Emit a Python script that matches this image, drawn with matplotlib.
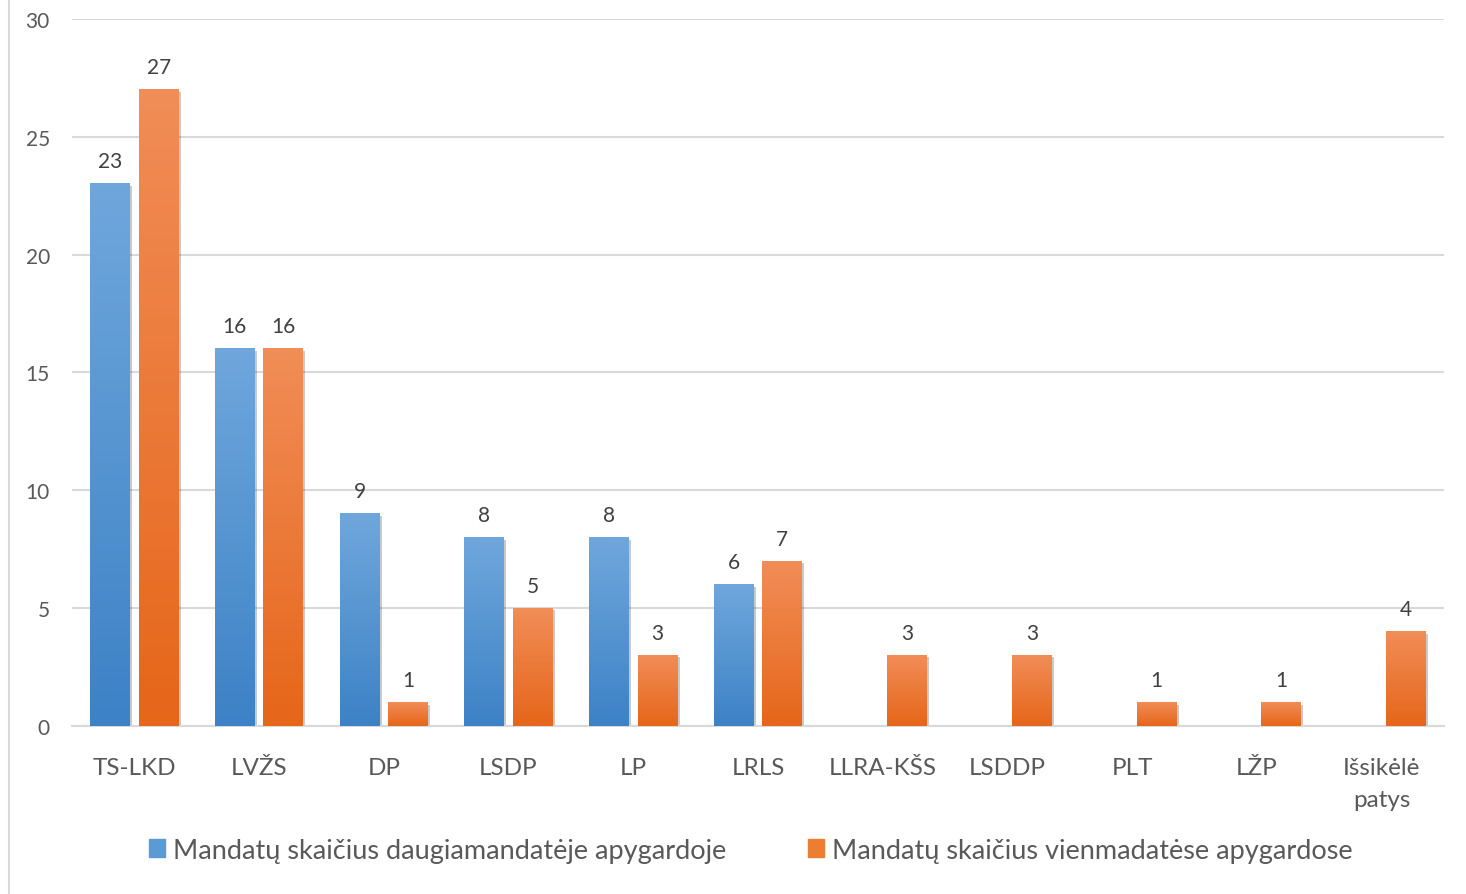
import numpy as np
import matplotlib.pyplot as plt
from matplotlib.colors import LinearSegmentedColormap
from matplotlib.lines import Line2D
import matplotlib.patheffects as pe

plt.rcParams["font.family"] = ["Lato", "DejaVu Sans"]

parties = ["TS-LKD", "LVŽS", "DP", "LSDP", "LP", "LRLS", "LLRA-KŠS", "LSDDP", "PLT", "LŽP", "Išsikėlė\npatys"]
multi = [23, 16, 9, 8, 8, 6, None, None, None, None, None]
single = [27, 16, 1, 5, 3, 7, 3, 3, 1, 1, 4]
labels = ["Mandatų skaičius daugiamandatėje apygardoje", "Mandatų skaičius vienmadatėse apygardose"]

blue_grad = LinearSegmentedColormap.from_list("b", ["#3D82C6", "#6FA7DC"])
orange_grad = LinearSegmentedColormap.from_list("o", ["#E6661A", "#F18D57"])
text_col = "#595959"
grid_col = "#D9D9D9"

fig = plt.figure(figsize=(14.66, 8.95), dpi=100)
ax = fig.add_axes([0.0491, 0.1877, 0.9359, 0.79])

x = np.arange(len(parties))
w = 0.32
off = 0.195
grad = np.linspace(0, 1, 100).reshape(-1, 1)

for series, sign, cmap in [(multi, -1, blue_grad), (single, 1, orange_grad)]:
    for i, v in enumerate(series):
        if v is None:
            continue
        xc = x[i] + sign * off
        b = ax.bar(xc, v, width=w, color=cmap(0.5), zorder=2,
                   path_effects=[pe.SimplePatchShadow(offset=(1.5, -1.5), alpha=0.25), pe.Normal()])[0]
        ax.imshow(grad, extent=[b.get_x(), b.get_x() + w, 0, v], origin="lower",
                  aspect="auto", cmap=cmap, zorder=3)
        ax.annotate(str(v), (xc, v), xytext=(0, 9), textcoords="offset points",
                    ha="center", va="bottom", fontsize=15, color="#404040")

ax.set_xlim(-0.5, len(parties) - 0.5)
ax.set_ylim(0, 30)
ax.set_aspect("auto")
ax.set_yticks(np.arange(0, 31, 5))
ax.set_xticks(x)
ax.set_xticklabels(parties, fontsize=17.5, color=text_col, linespacing=1.65)
ax.tick_params(axis="x", length=0, pad=22)
ax.tick_params(axis="y", length=0, pad=16, labelsize=15, labelcolor=text_col)
ax.grid(axis="y", color=grid_col, linewidth=1.5, zorder=0)
ax.set_axisbelow(True)
for s in ["top", "right", "left"]:
    ax.spines[s].set_visible(False)
ax.spines["bottom"].set_color(grid_col)
ax.spines["bottom"].set_linewidth(1.5)

handles = [plt.Rectangle((0, 0), 1, 1, color="#5B9BD5"), plt.Rectangle((0, 0), 1, 1, color="#ED7D31")]
fig.legend(handles, labels, loc="center", bbox_to_anchor=(0.512, 0.049), ncol=2, frameon=False,
           fontsize=19.5, labelcolor=text_col, handlelength=0.6, handleheight=0.6,
           handletextpad=0.3, columnspacing=3.0)

fig.add_artist(Line2D([9 / 1466, 9 / 1466], [0, 1], color=grid_col, linewidth=1.5))

fig.savefig("out.png", dpi=100)
